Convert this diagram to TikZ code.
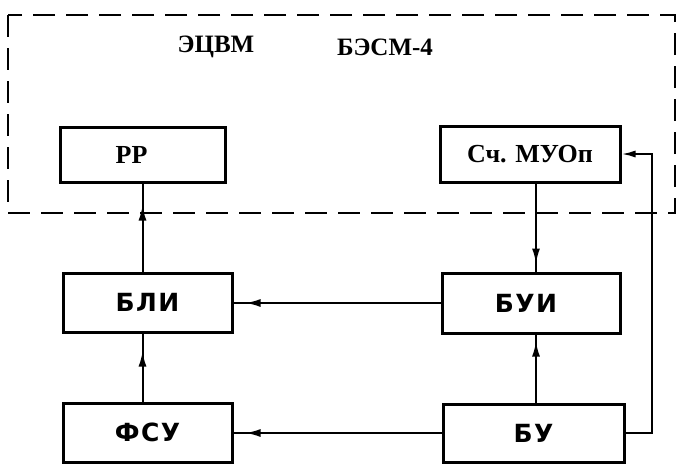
\documentclass[tikz,border=0pt]{standalone}
\usepackage{fontspec}
\setmainfont{Liberation Serif}
\newfontfamily\blocksans[LetterSpace=6]{DejaVu Sans}
\usetikzlibrary{arrows.meta,decorations.markings}
\tikzset{
  box/.style={draw, line width=3pt, rectangle, inner sep=0pt},
  serifbox/.style={box, font=\bfseries\fontsize{26}{26}\selectfont},
  sansbox/.style={box, font=\blocksans\bfseries\fontsize{25}{25}\selectfont},
  conn/.style={line width=2pt},
  tip/.style={-{Latex[length=14pt,width=7pt]}},
  midarrow/.style={postaction={decorate,decoration={markings,
      mark=at position #1 with {\arrow{Latex[length=15pt,width=8pt]}}}}},
  frame/.style={line width=2.4pt, dash pattern=on 22pt off 11pt},
  title/.style={font=\bfseries\fontsize{25}{25}\selectfont, inner sep=0pt}
}
\begin{document}
\begin{tikzpicture}[x=1pt,y=-1pt]
\useasboundingbox (0,0) rectangle (677,464);
% frame
\draw[frame] (8,15) rectangle (675,213);
\node[title] (t1) at (216,47) {ЭЦВМ};
\node[title] (t2) at (385,47) {БЭСМ-4};
% boxes
\node[serifbox, minimum width=165pt, minimum height=55pt] (pp) at (142.5,154.5) {PP\kern22pt};
\node[serifbox, minimum width=180pt, minimum height=56pt] (sch) at (530,154) {Сч. МУОп};
\node[sansbox, minimum width=169pt, minimum height=59pt] (bli) at (147.5,302.5) {БЛИ};
\node[sansbox, minimum width=178pt, minimum height=60pt] (bui) at (531,303) {БУИ\kern10pt};
\node[sansbox, minimum width=169pt, minimum height=59pt] (fsu) at (147.5,432.5) {ФСУ};
\node[sansbox, minimum width=181pt, minimum height=58pt] (bu) at (533.5,433) {БУ};
\coordinate (cr) at (536,0);
\coordinate (fb) at (652,0);
% connectors
\draw[conn, midarrow=66pt] (bli.north -| pp.south) -- (pp.south);
\draw[conn, midarrow=50pt] (fsu.north -| pp.south) -- (bli.south -| pp.south);
\draw[conn, midarrow=80pt] (sch.south -| cr) -- (bui.north -| cr);
\draw[conn, midarrow=61pt] (bu.north -| cr) -- (bui.south -| cr);
\draw[conn, midarrow=195pt] (bui.west) -- (bli.east |- bui.west);
\draw[conn, midarrow=196pt] (bu.west) -- (fsu.east |- bu.west);
\draw[conn, tip] (bu.east) -| (fb |- sch.east) -- (sch.east);
\end{tikzpicture}
\end{document}
